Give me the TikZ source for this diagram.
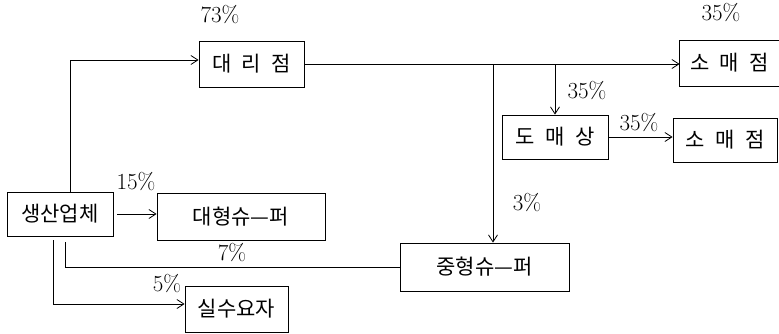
\documentclass[tikz,border=0pt]{standalone}
\usepackage{fontspec}
\newfontfamily\kr{Noto Sans CJK KR}
\usetikzlibrary{arrows.meta}
\newcommand{\gap}{\hspace{.5em}}
\begin{document}
\begin{tikzpicture}[x=1pt,y=-1pt,
  line width=0.8pt,
  box/.style={draw, rectangle, inner sep=0pt, font=\kr\fontsize{21}{23}\selectfont},
  pct/.style={inner sep=0pt, font=\fontsize{23}{25}\selectfont},
  arr/.style={-{Straight Barb[length=7pt,width=9pt]}}]
\useasboundingbox (0,0) rectangle (779,333);
% boxes
\node[box, minimum width=105, minimum height=46] (dae) at (251.5,64) {대\gap 리\gap 점};
\node[box, draw=none, minimum width=99, minimum height=45] (so1) at (729.5,63) {소\gap 매\gap 점};
\draw (so1.north east) -- (so1.north west) -- (so1.south west) -- (so1.south east);
\node[box, minimum width=106, minimum height=44] (do) at (555,137) {도\gap 매\gap 상};
\node[box, minimum width=104, minimum height=44] (so2) at (725,140) {소\gap 매\gap 점};
\node[box, minimum width=106, minimum height=44] (sa) at (60,214) {생산업체};
\node[box, minimum width=168, minimum height=47] (dh) at (241,216.5) {대형슈—퍼};
\node[box, minimum width=103, minimum height=46] (sil) at (236.5,309) {실수요자};
\node[box, minimum width=169, minimum height=48] (jh) at (484.5,267) {중형슈—퍼};
% connectors
\draw[arr] ([xshift=10pt]sa.north) |- ([yshift=4pt]dae.west);
\draw[arr] (dae.east) -- (dae.east -| so1.west);
\coordinate (b1) at (493,64);
\draw[arr] (b1) -- (b1 |- jh.north);
\draw[arr] (do.north |- dae.east) -- (do.north);
\draw[arr] (do.east) -- (do.east -| so2.west);
\draw[arr] ([xshift=4pt]sa.east) -- (sa.east -| dh.west);
\draw ([xshift=5pt,yshift=-6pt]sa.south) |- (jh.west);
\draw[arr] ([xshift=-7pt,yshift=-4pt]sa.south) |- ([yshift=5pt]sil.west);
% labels
\node[pct] (p73) at (220,15) {73\%};
\node[pct] (p35a) at (721,13) {35\%};
\node[pct] (p35b) at (587,91) {35\%};
\node[pct] (p35c) at (639,123) {35\%};
\node[pct] (p3) at (527,203) {3\%};
\node[pct] (p15) at (136,182) {15\%};
\node[pct] (p7) at (232,253) {7\%};
\node[pct] (p5) at (167,284) {5\%};
\end{tikzpicture}
\end{document}
